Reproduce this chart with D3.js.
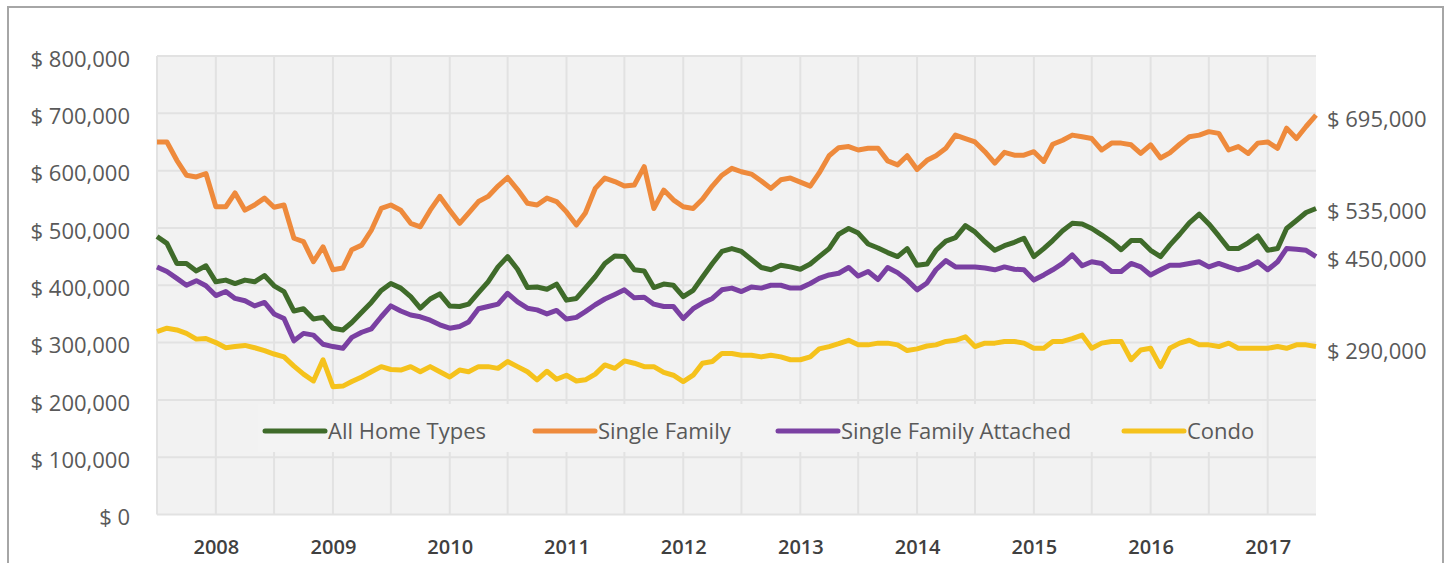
<!DOCTYPE html>
<html>
<head>
<meta charset="utf-8">
<script src="https://cdn.jsdelivr.net/npm/d3@7"></script>
<style>
  html, body { margin: 0; padding: 0; background: #fff; }
  svg { display: block; font-family: 'Open Sans', sans-serif; }
</style>
</head>
<body>
<svg id="chart" width="1449" height="563"></svg>
<script>
// monthly median prices, $ thousands, Jul 2007 .. Jun 2017
const allHomeTypes = [
  485, 473, 438, 438, 425, 434, 406, 409, 403, 409, 406, 417,
  399, 389, 355, 359, 341, 344, 325, 322, 335, 353, 370, 391,
  403, 395, 380, 360, 376, 385, 364, 363, 367, 387, 406, 432,
  450, 428, 396, 397, 393, 402, 374, 377, 395, 415, 438, 451,
  450, 427, 425, 396, 402, 400, 380, 391, 414, 438, 459, 464,
  459, 445, 431, 427, 435, 432, 428, 437, 450, 464, 489, 499,
  491, 472, 465, 457, 450, 464, 435, 437, 461, 477, 483, 504,
  493, 476, 461, 469, 475, 482, 450, 464, 478, 495, 508, 507,
  499, 488, 476, 462, 478, 478, 461, 450, 470, 489, 509, 524,
  507, 486, 464, 464, 474, 486, 461, 464, 499, 513, 527, 534
]
const singleFamily = [
  650, 650, 618, 592, 589, 595, 537, 537, 561, 531, 540, 552,
  536, 540, 482, 476, 441, 467, 427, 430, 462, 470, 496, 534,
  540, 531, 508, 502, 531, 555, 531, 508, 526, 546, 555, 573,
  588, 567, 543, 540, 552, 546, 528, 505, 526, 569, 587, 581,
  573, 575, 607, 534, 566, 549, 537, 534, 550, 573, 592, 604,
  598, 594, 582, 569, 584, 587, 580, 573, 596, 626, 640, 642,
  636, 639, 639, 617, 610, 626, 602, 618, 626, 639, 662, 656,
  650, 633, 613, 632, 627, 627, 633, 616, 646, 653, 662, 659,
  656, 636, 648, 648, 645, 630, 645, 622, 631, 646, 659, 662,
  668, 665, 636, 642, 630, 648, 650, 639, 674, 656, 677, 697
]
const singleFamilyAttached = [
  432, 424, 412, 400, 408, 399, 382, 389, 377, 373, 364, 370,
  350, 342, 303, 316, 313, 297, 293, 290, 309, 318, 324, 345,
  364, 355, 348, 345, 339, 331, 325, 328, 336, 359, 363, 367,
  386, 371, 360, 357, 350, 356, 341, 344, 354, 366, 376, 384,
  392, 378, 379, 367, 363, 363, 342, 359, 369, 377, 392, 395,
  389, 397, 395, 400, 400, 395, 395, 403, 412, 418, 421, 431,
  416, 424, 410, 431, 422, 409, 392, 404, 427, 443, 432, 432,
  432, 430, 427, 432, 428, 427, 409, 418, 427, 438, 453, 434,
  441, 438, 424, 424, 438, 432, 418, 427, 435, 435, 438, 441,
  432, 438, 432, 427, 432, 441, 427, 441, 464, 463, 461, 450
]
const condo = [
  319, 325, 322, 316, 306, 307, 300, 291, 293, 295, 291, 286,
  280, 275, 259, 245, 233, 270, 223, 224, 232, 240, 249, 258,
  253, 252, 258, 249, 258, 249, 240, 252, 249, 258, 258, 255,
  267, 258, 249, 235, 250, 236, 243, 233, 235, 245, 261, 255,
  268, 264, 258, 258, 248, 243, 232, 243, 264, 267, 281, 281,
  278, 278, 275, 278, 275, 270, 270, 275, 289, 293, 298, 304,
  296, 296, 299, 299, 296, 286, 289, 294, 296, 302, 304, 310,
  293, 299, 299, 302, 302, 299, 290, 290, 302, 302, 307, 313,
  290, 299, 302, 302, 270, 287, 290, 258, 290, 299, 304, 296,
  296, 293, 299, 290, 290, 290, 290, 293, 290, 296, 296, 293
]

const seriesNames = ['All Home Types', 'Single Family', 'Single Family Attached', 'Condo']
const seriesColors = ['#3f6b2a', '#ee8a3c', '#7a40a2', '#f5c21c']
const yTicks = [0, 100, 200, 300, 400, 500, 600, 700, 800]
const yearLabels = ['2008', '2009', '2010', '2011', '2012', '2013', '2014', '2015', '2016', '2017']
const endLabels = [535, 695, 450, 290]

const months = d3.timeMonth.range(new Date(2007, 6, 1), new Date(2017, 6, 1))
const seriesValues = [allHomeTypes, singleFamily, singleFamilyAttached, condo]

const svg = d3.select('#chart')
const margin = {left: 157, right: 133, top: 56, bottom: 48}
const width = 1449
const height = 563

// outer frame
svg.append('rect')
  .attr('x', 8).attr('y', 7)
  .attr('width', 1435).attr('height', 570)
  .attr('fill', '#fff')
  .attr('stroke', '#a6a6a6')
  .attr('stroke-width', 2)

const x = d3.scaleTime()
  .domain([months[0], months[months.length - 1]])
  .range([margin.left, width - margin.right])
const y = d3.scaleLinear()
  .domain([0, 800])
  .range([height - margin.bottom - 0.5, margin.top])

// plot background
svg.append('rect')
  .attr('x', x.range()[0]).attr('y', y(800))
  .attr('width', x.range()[1] - x.range()[0])
  .attr('height', y(0) - y(800))
  .attr('fill', '#f2f2f2')

const grid = svg.append('g').attr('stroke', '#e2e2e2').attr('stroke-width', 2)
grid.selectAll('line.h')
  .data(yTicks)
  .join('line')
  .attr('class', 'h')
  .attr('x1', x.range()[0]).attr('x2', x.range()[1])
  .attr('y1', d => y(d)).attr('y2', d => y(d))
grid.selectAll('line.v')
  .data(months.filter(d => d.getMonth() % 6 === 0))
  .join('line')
  .attr('class', 'v')
  .attr('x1', d => x(d)).attr('x2', d => x(d))
  .attr('y1', y(800)).attr('y2', y(0))

// legend box hides the grid behind it
svg.append('rect')
  .attr('x', 258).attr('y', 404)
  .attr('width', 1004).attr('height', 48)
  .attr('fill', '#f3f3f3')

// axes
const axisY = d3.axisLeft(y)
  .tickValues(yTicks)
  .tickSize(0)
  .tickPadding(27)
  .tickFormat(d => '$ ' + d3.format(',')(d * 1000))
svg.append('g')
  .attr('transform', `translate(${margin.left}, 0)`)
  .call(axisY)
  .call(g => g.select('.domain').remove())
  .selectAll('text')
  .attr('fill', '#595959')
  .attr('font-size', 22)
  .attr('dy', '0.47em')
  .attr('font-family', 'Open Sans, sans-serif')

const axisX = d3.axisBottom(x)
  .tickValues(yearLabels.map(d => new Date(+d, 0, 1)))
  .tickSize(0)
  .tickPadding(25)
  .tickFormat(d3.timeFormat('%Y'))
svg.append('g')
  .attr('transform', `translate(0, ${y(0)})`)
  .call(axisX)
  .call(g => g.select('.domain').remove())
  .selectAll('text')
  .attr('fill', '#404040')
  .attr('font-size', 20)
  .attr('font-weight', 600)
  .attr('font-family', 'Open Sans, sans-serif')

// lines
const line = d3.line()
  .x((d, i) => x(months[i]))
  .y(d => y(d))
  .curve(d3.curveLinear)

svg.append('g')
  .selectAll('path')
  .data(seriesValues)
  .join('path')
  .attr('d', d => line(d))
  .attr('fill', 'none')
  .attr('stroke', (d, i) => seriesColors[i])
  .attr('stroke-width', 5)
  .attr('stroke-linejoin', 'round')

// end labels
svg.append('g')
  .selectAll('text')
  .data(endLabels)
  .join('text')
  .attr('x', width - margin.right + 11)
  .attr('y', d => y(d) + 3)
  .attr('dy', '0.35em')
  .attr('fill', '#595959')
  .attr('font-size', 22)
  .text(d => '$ ' + d3.format(',')(d * 1000))

// legend
const legendX = [265, 535, 778, 1124]
const legend = svg.append('g')
  .selectAll('g')
  .data(seriesNames)
  .join('g')
  .attr('transform', (d, i) => `translate(${legendX[i]}, 431)`)
legend.append('line')
  .attr('x1', 0).attr('x2', 60)
  .attr('stroke', (d, i) => seriesColors[i])
  .attr('stroke-width', 5)
  .attr('stroke-linecap', 'round')
legend.append('text')
  .attr('x', 63)
  .attr('dy', '0.35em')
  .attr('fill', '#595959')
  .attr('font-size', 22)
  .text(d => d)
</script>
</body>
</html>
